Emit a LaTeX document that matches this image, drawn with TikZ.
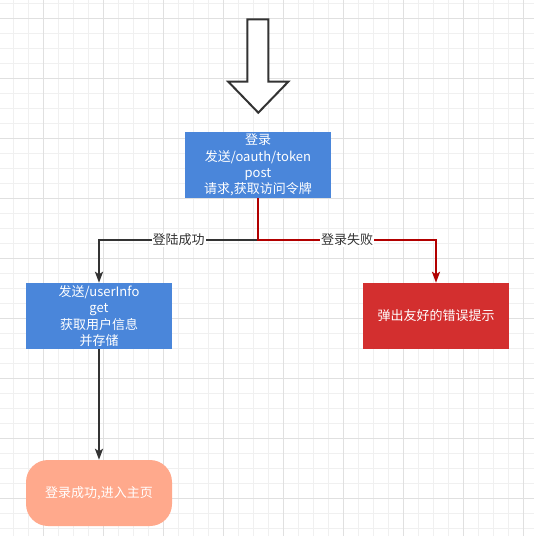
\documentclass[tikz,border=0pt]{standalone}
\usepackage{fontspec}
\setmainfont{Noto Sans CJK SC}
\usetikzlibrary{arrows.meta}
\definecolor{boxblue}{RGB}{74,134,218}
\definecolor{boxred}{RGB}{211,47,47}
\definecolor{salmon}{RGB}{255,169,140}
\definecolor{darkline}{RGB}{51,51,51}
\definecolor{redline}{RGB}{178,0,0}
\definecolor{minorg}{RGB}{240,240,240}
\definecolor{majorg}{RGB}{224,224,224}
\tikzset{
  minorgrid/.style={draw=minorg, line width=1pt},
  majorgrid/.style={draw=majorg, line width=1pt},
  txt/.style={font=\fontsize{13}{16.3}\selectfont, align=center},
  bluebox/.style={txt, fill=boxblue, text=white, inner sep=0pt, minimum width=146pt, minimum height=66pt},
  redbox/.style={txt, fill=boxred, text=white, inner sep=0pt, minimum width=146pt, minimum height=66pt},
  termbox/.style={txt, fill=salmon, text=white, inner sep=0pt, minimum width=146pt, minimum height=66pt, rounded corners=22pt},
  darkedge/.style={draw=darkline, line width=2pt, -{Stealth[length=11pt,width=8pt,inset=2.5pt]}},
  rededge/.style={draw=redline, line width=2pt, -{Stealth[length=11pt,width=8pt,inset=2.5pt]}},
  lbl/.style={txt, fill=white, text=darkline, inner sep=1pt},
  bigarrow/.style={draw=darkline, fill=white, line width=2pt, line join=miter}
}
\begin{document}
\begin{tikzpicture}[x=1pt,y=-1pt]
\useasboundingbox (0,0) rectangle (534,536);
\fill[white] (0,0) rectangle (534,536);
\foreach \i in {0,...,35} {
  \draw[minorgrid] (13.3+15*\i,0) -- (13.3+15*\i,536);
  \draw[minorgrid] (0,3.3+15*\i) -- (534,3.3+15*\i);
}
\foreach \i in {0,...,8} {
  \draw[majorgrid] (43.3+60*\i,0) -- (43.3+60*\i,536);
  \draw[majorgrid] (0,18.3+60*\i) -- (534,18.3+60*\i);
}
% big hollow arrow
\draw[bigarrow] (247.3,19.3) -- (268.3,19.3) -- (268.3,81.7) -- (288.3,81.7) -- (258.3,112.7) -- (228.3,81.7) -- (247.3,81.7) -- cycle;
% nodes
\node[bluebox] (b1) at (258,165) {登录\\发送/oauth/token\\post\\请求,获取访问令牌};
\node[bluebox] (b2) at (99,316) {发送/userInfo\\get\\获取用户信息\\并存储};
\node[redbox] (b3) at (436,316) {弹出友好的错误提示};
\node[termbox] (t) at (99,493) {登录成功,进入主页};
% connectors
\coordinate (j) at (258,240);
\draw[darkedge] (b1.south) -- (j) -| node[lbl,pos=0.25]{登陆成功} (b2.north);
\draw[rededge] (b1.south) -- (j) -| node[lbl,pos=0.25]{登录失败} (b3.north);
\draw[darkedge] (b2.south) -- (t.north);
\end{tikzpicture}
\end{document}
